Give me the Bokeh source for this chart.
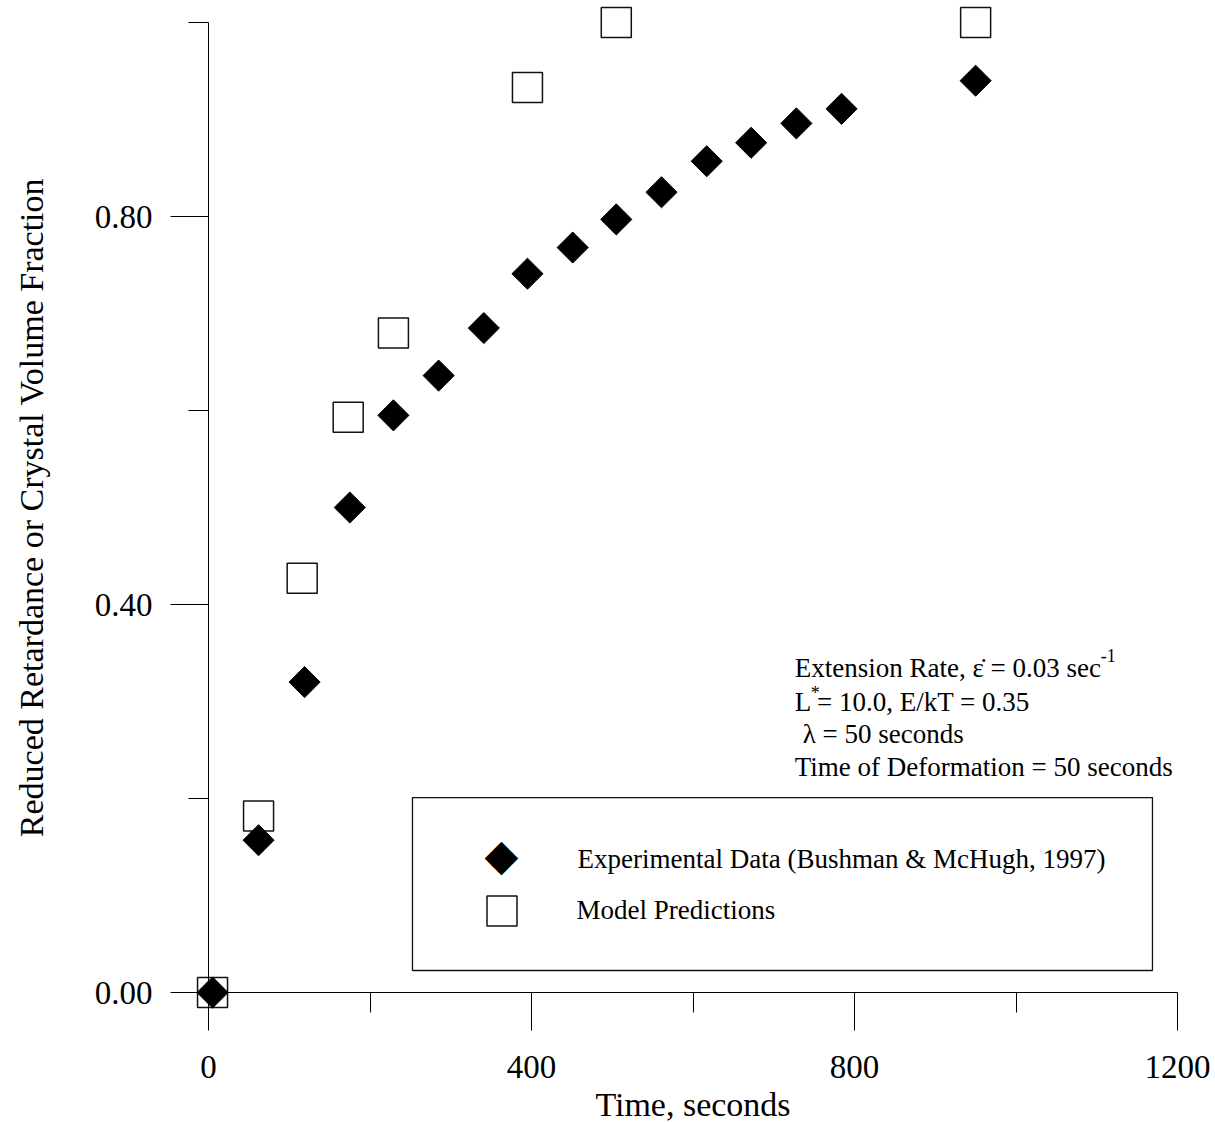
import math

from bokeh.embed import file_html
from bokeh.models import (BoxAnnotation, FixedTicker, Label, Legend, LegendItem,
                          PrintfTickFormatter, Range1d)
from bokeh.plotting import figure
from bokeh.resources import INLINE

# Experimental retardance data (time in s, reduced retardance)
exp_time = [5, 62, 119, 175, 229, 285, 341, 395, 451, 505, 561, 617, 672, 728, 784, 950]
exp_value = [0.0, 0.157, 0.320, 0.500, 0.595, 0.636, 0.685, 0.741, 0.768,
             0.797, 0.825, 0.857, 0.876, 0.896, 0.911, 0.940]

# Model predictions of crystal volume fraction
model_time = [5, 62, 116, 173, 229, 395, 505, 950]
model_value = [0.0, 0.182, 0.427, 0.593, 0.680, 0.933, 1.0, 1.0]

x_ticks = [0, 400, 800, 1200]
x_minor = [200, 600, 1000]
y_ticks = [0.0, 0.4, 0.8]
y_minor = [0.2, 0.6, 1.0]

exp_label = "Experimental Data (Bushman & McHugh, 1997)"
model_label = "Model Predictions"
notes = [
    "Extension Rate, \u03b5\u0307 = 0.03 sec",
    "L = 10.0, E/kT = 0.35",
    "\u03bb = 50 seconds",
    "Time of Deformation = 50 seconds",
]

FONT = "Liberation Serif"

p = figure(frame_width=969, frame_height=970,
           min_border_left=208, min_border_right=38,
           min_border_top=22, min_border_bottom=130,
           x_range=Range1d(0, 1200), y_range=Range1d(0, 1.0),
           output_backend="svg", toolbar_location=None,
           background_fill_color="white", border_fill_color="white")
p.outline_line_color = None
p.grid.visible = False

p.xaxis.ticker = FixedTicker(ticks=x_ticks, minor_ticks=x_minor)
p.yaxis.ticker = FixedTicker(ticks=y_ticks, minor_ticks=y_minor)
p.xaxis.formatter = PrintfTickFormatter(format="%d")
p.yaxis.formatter = PrintfTickFormatter(format="%.2f")

for ax in (p.xaxis[0], p.yaxis[0]):
    ax.axis_line_color = "black"
    ax.axis_line_width = 1
    ax.major_tick_line_color = "black"
    ax.minor_tick_line_color = "black"
    ax.major_tick_out = 38
    ax.major_tick_in = 0
    ax.minor_tick_out = 20
    ax.minor_tick_in = 0
    ax.major_label_text_font = FONT
    ax.major_label_text_font_size = "33px"
    ax.major_label_text_color = "black"
    ax.axis_label_text_font = FONT
    ax.axis_label_text_font_size = "34px"
    ax.axis_label_text_font_style = "normal"
    ax.axis_label_text_color = "black"

p.xaxis.axis_label = "Time, seconds"
p.yaxis.axis_label = "Reduced Retardance or Crystal Volume Fraction"
p.xaxis.major_label_standoff = 25
p.xaxis.axis_label_standoff = 5
p.yaxis.major_label_standoff = 18
p.yaxis.axis_label_standoff = 42

r_model = p.scatter(model_time, model_value, marker="square", size=30,
                    fill_color=None, line_color="#111111", line_width=1.5,
                    level="overlay")
r_exp = p.scatter(exp_time, exp_value, marker="square", angle=math.pi / 4,
                  size=22, fill_color="black", line_color="black",
                  level="overlay")

# legend frame
p.add_layout(BoxAnnotation(left=252.6, right=1169, bottom=0.0227, top=0.201,
                           fill_alpha=0, line_color="#111111", line_alpha=1.0,
                           line_width=1.3))

# experimental entry: rotated-square key and its caption
p.add_layout(Label(x=362.8, y=0.1425, text="\u25c6", text_font="DejaVu Sans",
                   text_font_size="44px", text_color="black",
                   text_align="center", text_baseline="middle"))
p.add_layout(Label(x=457, y=0.1381, text=exp_label, text_font=FONT,
                   text_font_size="27px", text_color="black",
                   text_baseline="middle"))

# model entry as a regular legend
leg_model = Legend(items=[LegendItem(label=model_label, renderers=[r_model])],
                   location=(255.5, 44), glyph_width=75, glyph_height=75,
                   label_standoff=38, padding=0, margin=0, spacing=0,
                   border_line_color=None, background_fill_alpha=0,
                   label_text_font=FONT, label_text_font_size="27px",
                   label_text_color="black")
p.add_layout(leg_model)

note_style = dict(text_font=FONT, text_font_size="27px", text_color="black",
                  text_baseline="alphabetic")
note_y = [0.335, 0.300, 0.266, 0.232]
for i, (txt, ny) in enumerate(zip(notes, note_y)):
    p.add_layout(Label(x=726, y=ny, text=txt, x_offset=8 if i == 2 else 0,
                       **note_style))
sup_style = dict(text_font=FONT, text_font_size="18px", text_color="black",
                 text_baseline="alphabetic")
p.add_layout(Label(x=726, y=note_y[0], text="-1", x_offset=306, y_offset=12,
                   **sup_style))
p.add_layout(Label(x=726, y=note_y[1], text="*", x_offset=16, y_offset=9,
                   **sup_style))

open("out.html", "w").write(file_html(p, INLINE))
